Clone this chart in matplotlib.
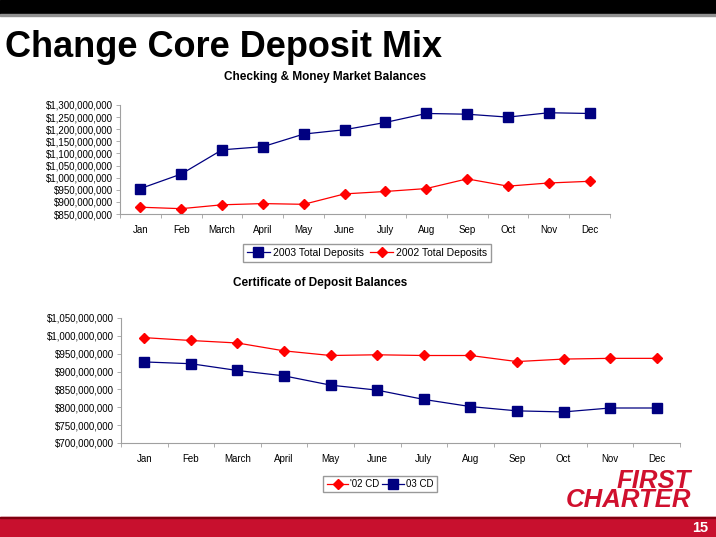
import numpy as np
import matplotlib.pyplot as plt
from matplotlib.patches import Rectangle
from matplotlib.ticker import FuncFormatter, FixedLocator

plt.rcParams['font.family'] = ['Liberation Sans', 'DejaVu Sans']

months = ["Jan", "Feb", "March", "April", "May", "June", "July", "Aug", "Sep", "Oct", "Nov", "Dec"]

# checking & money market balances
dep_2003 = [955e6, 1015e6, 1115e6, 1128e6, 1180e6, 1198e6, 1228e6, 1265e6, 1262e6, 1250e6, 1268e6, 1265e6]
dep_2002 = [878e6, 872e6, 888e6, 893e6, 890e6, 933e6, 943e6, 955e6, 995e6, 965e6, 978e6, 985e6]

# certificate of deposit balances
cd_02 = [995e6, 987e6, 980e6, 958e6, 945e6, 947e6, 945e6, 945e6, 928e6, 935e6, 937e6, 937e6]
cd_03 = [927e6, 922e6, 903e6, 888e6, 862e6, 848e6, 822e6, 802e6, 790e6, 787e6, 798e6, 798e6]

W, H = 716, 537
fig = plt.figure(figsize=(W / 100, H / 100), dpi=100)

def px(x0, y0, x1, y1):
    # pixel box (top-left origin) -> figure fraction
    return [x0 / W, 1 - y1 / H, (x1 - x0) / W, (y1 - y0) / H]

navy = "#000080"
red = "#FF0000"
axis_grey = "#A0A0A0"
money = FuncFormatter(lambda v, p: "${:,.0f}".format(v))

def style(ax, lo, hi):
    x = np.arange(len(months))
    ax.set_xlim(-0.5, len(months) - 0.5)
    ax.set_ylim(lo, hi)
    ax.set_yticks(np.arange(lo, hi + 1, 50e6))
    ax.yaxis.set_major_formatter(money)
    ax.set_xticks(x)
    ax.set_xticklabels(months)
    ax.xaxis.set_minor_locator(FixedLocator(np.arange(-0.5, len(months), 1)))
    ax.tick_params(axis='x', which='major', length=0, pad=8, labelsize=7)
    ax.tick_params(axis='x', which='minor', length=3, width=0.6, color=axis_grey)
    ax.tick_params(axis='y', length=3, width=0.6, color=axis_grey, labelsize=7, pad=2)
    for s in ["top", "right"]:
        ax.spines[s].set_visible(False)
    for s in ["left", "bottom"]:
        ax.spines[s].set_color(axis_grey)
        ax.spines[s].set_linewidth(0.8)
    return x

# header bar
fig.patches.append(Rectangle((0, 1 - 14 / H), 1, 14 / H, transform=fig.transFigure,
                             color='black', zorder=0))
fig.patches.append(Rectangle((0, 1 - 16 / H), 1, 2 / H, transform=fig.transFigure,
                             color='#909090', zorder=0))
fig.text(5 / W, 1 - 57 / H, "Change Core Deposit Mix", fontsize=26, fontweight='bold',
         va='baseline', ha='left')

# top chart
ax1 = fig.add_axes(px(120, 105, 610, 214))
x = style(ax1, 850e6, 1300e6)
l1, = ax1.plot(x, dep_2003, color=navy, lw=0.9, marker='s', ms=6.5, label="2003 Total Deposits")
l2, = ax1.plot(x, dep_2002, color=red, lw=0.9, marker='D', ms=5.5, label="2002 Total Deposits")
fig.text(325 / W, 1 - 77 / H, "Checking & Money Market Balances", fontsize=8.5,
         fontweight='bold', ha='center', va='center')
fig.legend(handles=[l1, l2], loc='center', bbox_to_anchor=(367 / W, 1 - 253 / H), ncol=2,
           fontsize=7.5, frameon=True, fancybox=False, edgecolor='#808080',
           handlelength=2.2, columnspacing=0.6, handletextpad=0.3, borderpad=0.35,
           borderaxespad=0)

# bottom chart
ax2 = fig.add_axes(px(121, 318, 680, 443))
x = style(ax2, 700e6, 1050e6)
l3, = ax2.plot(x, cd_02, color=red, lw=0.9, marker='D', ms=5.5, label="'02 CD")
l4, = ax2.plot(x, cd_03, color=navy, lw=0.9, marker='s', ms=6.5, label="03 CD")
fig.text(320 / W, 1 - 283 / H, "Certificate of Deposit Balances", fontsize=8.5,
         fontweight='bold', ha='center', va='center')
fig.legend(handles=[l3, l4], loc='center', bbox_to_anchor=(380 / W, 1 - 484 / H), ncol=2,
           fontsize=7, frameon=True, fancybox=False, edgecolor='#808080',
           handlelength=2.2, columnspacing=0.3, handletextpad=0.2, borderpad=0.35,
           borderaxespad=0)

# logo
fig.text(691 / W, 1 - 507 / H, "FIRST\nCHARTER", color='#D0102E', fontsize=18.5,
         fontweight='bold', style='italic', ha='right', va='baseline',
         multialignment='right', linespacing=0.75)

# footer bar
fig.patches.append(Rectangle((0, 0), 1, 20 / H, transform=fig.transFigure,
                             color='#C8102E', zorder=0))
fig.patches.append(Rectangle((0, 19 / H), 1, 1.5 / H, transform=fig.transFigure,
                             color='#800010', zorder=0))
fig.text(708 / W, 9 / H, "15", color='white', fontsize=10.5, fontweight='bold',
         ha='right', va='center')

fig.savefig("out.png", dpi=100)
